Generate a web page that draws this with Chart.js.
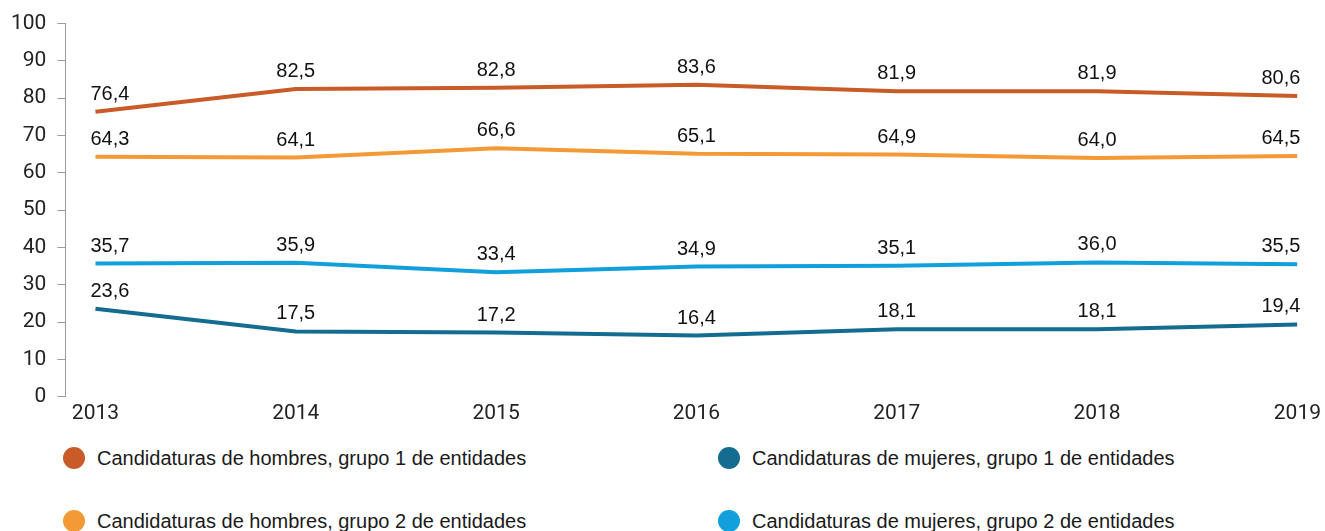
<!DOCTYPE html>
<html>
<head>
<meta charset="utf-8">
<script src="https://cdn.jsdelivr.net/npm/chart.js@4.4.1/dist/chart.umd.min.js"></script>
<style>
  body { margin: 0; background: #fff; width: 1325px; height: 531px; overflow: hidden; position: relative; }
  #wrap { position: absolute; left: 0; top: 0; }
  .leg { position: absolute; font: 20px "Liberation Sans", Arial, sans-serif; color: #1a1a1a; white-space: nowrap; line-height: 24px; }
  .leg span.dot { position: absolute; width: 22px; height: 22px; border-radius: 50%; left: -34px; top: 50%; margin-top: -11px; }
</style>
</head>
<body>
<div id="wrap"><canvas id="chart" width="1325" height="432"></canvas></div>
<div id="legend"></div>
<script>
// datos
const years = [2013, 2014, 2015, 2016, 2017, 2018, 2019];
const yTicks = [0, 10, 20, 30, 40, 50, 60, 70, 80, 90, 100];

const hombresG1 = [76.4, 82.5, 82.8, 83.6, 81.9, 81.9, 80.6];
const hombresG2 = [64.3, 64.1, 66.6, 65.1, 64.9, 64.0, 64.5];
const mujeresG1 = [23.6, 17.5, 17.2, 16.4, 18.1, 18.1, 19.4];
const mujeresG2 = [35.7, 35.9, 33.4, 34.9, 35.1, 36.0, 35.5];

const names = [
  "Candidaturas de hombres, grupo 1 de entidades",
  "Candidaturas de hombres, grupo 2 de entidades",
  "Candidaturas de mujeres, grupo 1 de entidades",
  "Candidaturas de mujeres, grupo 2 de entidades"
];
const colors = ["#C95B28", "#F39A36", "#146C91", "#12A0DC"];
const series = [hombresG1, hombresG2, mujeresG1, mujeresG2];

// etiquetas de valores
const valueLabels = {
  id: "valueLabels",
  afterDatasetsDraw(chart) {
    const ctx = chart.ctx;
    const area = chart.chartArea;
    ctx.save();
    ctx.font = '20px "Liberation Sans"';
    ctx.fillStyle = "#111";
    ctx.textBaseline = "alphabetic";
    ctx.textAlign = "left";
    chart.data.datasets.forEach((ds, i) => {
      chart.getDatasetMeta(i).data.forEach((pt, j) => {
        const txt = ds.data[j].y.toFixed(1).replace(".", ",");
        const w = ctx.measureText(txt).width;
        let x = pt.x - w / 2;
        x = Math.max(area.left + 25, Math.min(x, area.right + 3 - w));
        ctx.fillText(txt, x, pt.y - 12);
      });
    });
    ctx.restore();
  }
};

new Chart(document.getElementById("chart"), {
  type: "line",
  data: {
    datasets: series.map((s, i) => ({
      label: names[i],
      data: s.map((v, j) => ({ x: years[j], y: v })),
      borderColor: colors[i],
      backgroundColor: colors[i],
      borderWidth: 4,
      pointRadius: 0,
      tension: 0
    }))
  },
  options: {
    responsive: false,
    animation: false,
    layout: { padding: { left: 0, right: 25, top: 22, bottom: 2 } },
    plugins: { legend: { display: false }, tooltip: { enabled: false } },
    scales: {
      x: {
        type: "linear",
        min: 2012.85,
        max: 2019,
        afterBuildTicks: (axis) => { axis.ticks = years.map(v => ({ value: v })); },
        grid: { display: false, drawTicks: false },
        border: { display: false },
        ticks: { font: { family: "Roboto", size: 21 }, color: "#222", padding: 4, maxRotation: 0, callback: v => String(v) }
      },
      y: {
        min: 0,
        max: 100,
        afterBuildTicks: (axis) => { axis.ticks = yTicks.map(v => ({ value: v })); },
        grid: { drawOnChartArea: false, tickLength: 8, color: "#9a9a9a" },
        border: { color: "#9a9a9a", width: 1 },
        ticks: { font: { family: "Roboto", size: 21 }, color: "#222", padding: 11 }
      }
    }
  },
  plugins: [valueLabels]
});

// leyenda
const legPos = [[97, 458], [97, 521], [752, 458], [752, 521]];
const legend = document.getElementById("legend");
names.forEach((n, i) => {
  const d = document.createElement("div");
  d.className = "leg";
  d.style.left = legPos[i][0] + "px";
  d.style.top = (legPos[i][1] - 12) + "px";
  d.innerHTML = '<span class="dot" style="background:' + colors[i] + '"></span>' + n;
  legend.appendChild(d);
});
</script>
</body>
</html>
